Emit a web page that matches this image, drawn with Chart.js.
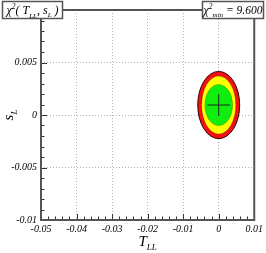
<!DOCTYPE html>
<html>
<head>
<meta charset="utf-8">
<script src="https://cdn.jsdelivr.net/npm/chart.js@4/dist/chart.umd.min.js"></script>
<style>
  html, body { margin: 0; padding: 0; background: #fff; }
  canvas { display: block; }
</style>
</head>
<body>
<canvas id="c" width="266" height="253"></canvas>
<script>
// Values.
const xTicks = [-0.05, -0.04, -0.03, -0.02, -0.01, 0, 0.01];
const xTickLabels = ["-0.05", "-0.04", "-0.03", "-0.02", "-0.01", "0", "0.01"];
const yTicks = [-0.01, -0.005, 0, 0.005, 0.01];
const yTickLabels = ["-0.01", "-0.005", "0", "0.005", ""];

// Confidence contours, outer to inner: common centre and half-widths.
const contourLevels = ["3 sigma", "2 sigma", "1 sigma"];
const centreT = 0.0;
const centreS = 0.00095;
const halfT = [0.0059, 0.0048, 0.0039];
const halfS = [0.0032, 0.00276, 0.00196];

// Best-fit cross bars.
const crossT = [-0.0032, 0.0032];
const crossS = [-0.0001, 0.002];
const chiMin = "9.600";

const FILLS = ["#f21010", "#ffff00", "#10ee10"];
const SERIF = "'Liberation Serif', 'DejaVu Serif', serif";
const AXIS = "#555";

// Draw a run of text pieces (sub/superscripts) starting at x, baseline y.
function runs(ctx, x, y, parts, measureOnly) {
    let cx = x;
    parts.forEach(([text, size, dy]) => {
        ctx.font = `italic ${size}px ${SERIF}`;
        if (!measureOnly) {
            ctx.fillText(text, cx, y + (dy || 0));
        }
        cx += ctx.measureText(text).width;
    });
    return cx - x;
}

function labelBox(ctx, left, top, w, h, parts) {
    ctx.save();
    ctx.fillStyle = "#fff";
    ctx.fillRect(left, top, w, h);
    ctx.strokeStyle = AXIS;
    ctx.lineWidth = 1.5;
    ctx.strokeRect(left, top, w, h);
    ctx.fillStyle = "#000";
    ctx.textBaseline = "alphabetic";
    const tw = runs(ctx, 0, 0, parts, true);
    runs(ctx, left + (w - tw) / 2, top + h - 5, parts, false);
    ctx.restore();
}

const contours = {
    id: "contours",
    beforeDatasetsDraw(chart) {
        const { ctx, scales: { x, y } } = chart;
        const cx = x.getPixelForValue(centreT);
        const cy = y.getPixelForValue(centreS);
        ctx.save();
        halfT.forEach((h, i) => {
            const rx = Math.abs(x.getPixelForValue(centreT + h) - cx);
            const ry = Math.abs(y.getPixelForValue(centreS + halfS[i]) - cy);
            ctx.beginPath();
            ctx.ellipse(cx, cy, rx, ry, 0, 0, 2 * Math.PI);
            ctx.fillStyle = FILLS[i];
            ctx.fill();
            ctx.lineWidth = i === 0 ? 1 : 0.6;
            ctx.strokeStyle = i === 0 ? "#300" : "rgba(0,0,0,0.35)";
            ctx.stroke();
        });
        ctx.restore();
    }
};

const frame = {
    id: "frame",
    afterDraw(chart) {
        const { ctx, chartArea: a, scales: { x, y } } = chart;
        ctx.save();
        // inward tick marks, minor every 0.002 / 0.001
        ctx.strokeStyle = "#333";
        ctx.lineWidth = 1;
        ctx.beginPath();
        for (let i = 0; i <= 30; i++) {
            const px = Math.round(x.getPixelForValue(-0.05 + i * 0.002)) + 0.5;
            const len = i % 5 === 0 ? 6 : 3.5;
            ctx.moveTo(px, a.bottom);
            ctx.lineTo(px, a.bottom - len);
        }
        for (let i = 0; i <= 20; i++) {
            const py = Math.round(y.getPixelForValue(-0.01 + i * 0.001)) + 0.5;
            const len = i % 5 === 0 ? 6 : 3.5;
            ctx.moveTo(a.left, py);
            ctx.lineTo(a.left + len, py);
        }
        ctx.stroke();
        // plot frame
        ctx.strokeStyle = AXIS;
        ctx.lineWidth = 2;
        ctx.strokeRect(a.left, a.top, a.right - a.left, a.bottom - a.top);

        // axis titles
        ctx.fillStyle = "#000";
        const tParts = [["T", 15, 0], ["LL", 9, 4]];
        ctx.textBaseline = "alphabetic";
        const tw = runs(ctx, 0, 0, tParts, true);
        runs(ctx, (a.left + a.right) / 2 - tw / 2, 246, tParts, false);

        const sParts = [["s", 15, 0], ["L", 9, 4]];
        const sw = runs(ctx, 0, 0, sParts, true);
        ctx.save();
        ctx.translate(13, (a.top + a.bottom) / 2);
        ctx.rotate(-Math.PI / 2);
        runs(ctx, -sw / 2, 0, sParts, false);
        ctx.restore();

        // header boxes
        labelBox(ctx, 2.5, 1.5, 60, 17, [
            ["\u03c7", 12, 0], ["2", 7.5, -5], ["( T", 12, 0], ["LL", 7, 4],
            [", s", 12, 0], ["L", 7, 3], [" )", 12, 0]
        ]);
        labelBox(ctx, 202.5, 1.5, 61, 17, [
            ["\u03c7", 12, 0], ["2", 7.5, -5], ["min", 7, 3], [" = " + chiMin, 11.5, 0]
        ]);
        ctx.restore();
    }
};

const crossStyle = {
    borderColor: "#1a2a1a",
    borderWidth: 1,
    pointRadius: 0,
    showLine: true,
    fill: false
};

new Chart(document.getElementById("c"), {
    type: "scatter",
    data: {
        datasets: [
            Object.assign({
                label: "best fit (T)",
                data: [{ x: crossT[0], y: centreS }, { x: crossT[1], y: centreS }]
            }, crossStyle),
            Object.assign({
                label: "best fit (s)",
                data: [{ x: centreT, y: crossS[0] }, { x: centreT, y: crossS[1] }]
            }, crossStyle)
        ]
    },
    options: {
        responsive: false,
        animation: false,
        devicePixelRatio: 1,
        layout: { padding: { left: 0, right: 11, top: 5, bottom: 0 } },
        plugins: { legend: { display: false }, tooltip: { enabled: false } },
        scales: {
            x: {
                type: "linear",
                min: -0.05,
                max: 0.01,
                afterBuildTicks: s => { s.ticks = xTicks.map(v => ({ value: v })); },
                afterFit: s => { s.height = 33; },
                grid: { color: "#b4b4b4", lineWidth: 1, drawTicks: false },
                border: { display: false, dash: [1, 2] },
                ticks: {
                    padding: 3,
                    color: "#000",
                    font: { family: SERIF, style: "italic", size: 10 },
                    maxRotation: 0,
                    autoSkip: false,
                    callback: (v, i) => xTickLabels[i]
                }
            },
            y: {
                type: "linear",
                min: -0.01,
                max: 0.01,
                afterBuildTicks: s => { s.ticks = yTicks.map(v => ({ value: v })); },
                afterFit: s => { s.width = 41; },
                grid: { color: "#b4b4b4", lineWidth: 1, drawTicks: false },
                border: { display: false, dash: [1, 2] },
                ticks: {
                    padding: 4,
                    color: "#000",
                    font: { family: SERIF, style: "italic", size: 10 },
                    autoSkip: false,
                    callback: (v, i) => yTickLabels[i]
                }
            }
        }
    },
    plugins: [contours, frame]
});
</script>
</body>
</html>
